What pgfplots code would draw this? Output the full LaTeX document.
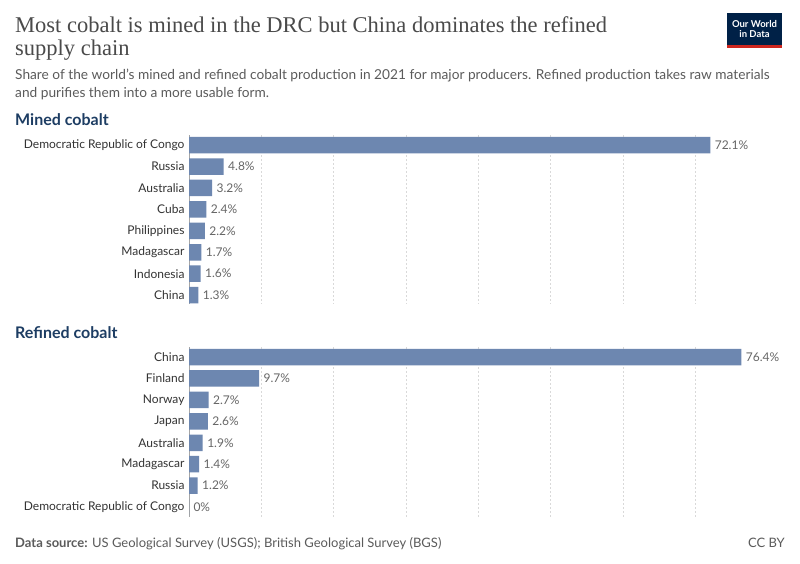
\documentclass[border=0pt]{standalone}
\usepackage{fontspec}
\setmainfont{Lato}
\newfontfamily\titlefont{Liberation Serif}
\usepackage{pgfplots}
\pgfplotsset{compat=1.18}
\definecolor{barblue}{HTML}{6D87B0}
\definecolor{titlegray}{HTML}{4A4A4A}
\definecolor{subgray}{HTML}{5B5B5B}
\definecolor{labgray}{HTML}{333333}
\definecolor{valgray}{HTML}{666666}
\definecolor{navy}{HTML}{1D3D63}
\definecolor{owidnavy}{HTML}{002147}
\definecolor{owidred}{HTML}{CE261E}

\pgfplotsset{
  cobalt/.style={
    xbar, bar width=16.5pt,
    scale only axis, width=578.4pt,
    xmin=0, xmax=80,
    y dir=reverse, ytick={0,...,7},
    xtick={10,20,...,70}, xticklabels={},
    xmajorgrids,
    major grid style={dash pattern=on 2pt off 2pt, color=black!15},
    extra x ticks={0}, extra x tick labels={},
    extra x tick style={major grid style={solid, color=black!35}},
    axis line style={draw=none},
    major tick length=0pt,
    /pgf/number format/assume math mode=true,
    yticklabel style={font=\fontsize{12}{14}\selectfont, text=labgray, xshift=-1pt},
    nodes near coords={\pgfmathprintnumber[fixed,precision=1]{\pgfplotspointmeta}\%},
    every node near coord/.append style={font=\fontsize{12}{14}\selectfont, text=valgray, xshift=1pt},
    clip=false,
  }
}

\begin{document}
\begin{tikzpicture}[x=1pt,y=1pt]
\useasboundingbox[fill=white] (0,0) rectangle (800,-564);

% title and subtitle
\node[anchor=base west, inner sep=0, text=titlegray, font=\titlefont\fontsize{22.5}{26}\selectfont] at (15,-33) {Most cobalt is mined in the DRC but China dominates the refined};
\node[anchor=base west, inner sep=0, text=titlegray, font=\titlefont\fontsize{22.5}{26}\selectfont] at (15,-56) {supply chain};
\node[anchor=base west, inner sep=0, text=subgray, font=\fontsize{13.7}{16}\selectfont] at (15,-80) {Share of the world's mined and refined cobalt production in 2021 for major producers. Refined production takes raw materials};
\node[anchor=base west, inner sep=0, text=subgray, font=\fontsize{13.7}{16}\selectfont] at (15,-98) {and purifies them into a more usable form.};

% logo
\fill[owidnavy] (727,-13) rectangle (782,-48);
\fill[owidred] (727,-45) rectangle (782,-48);
\node[text=white, align=center, inner sep=0, font=\bfseries\fontsize{9.5}{10.5}\selectfont] at (754.5,-29) {Our World\\in Data};

% panel titles
\node[anchor=base west, inner sep=0, text=navy, font=\bfseries\fontsize{16}{19}\selectfont] at (15,-126) {Mined cobalt};
\node[anchor=base west, inner sep=0, text=navy, font=\bfseries\fontsize{16}{19}\selectfont] at (15,-338) {Refined cobalt};

\begin{axis}[cobalt, at={(189pt,-135pt)}, anchor=north west,
  height=168.7pt, ymin=-0.47, ymax=7.4,
  yticklabels={Democratic Republic of Congo,Russia,Australia,Cuba,Philippines,Madagascar,Indonesia,China}]
  \addplot[fill=barblue, draw=none] coordinates {
    (72.1,0) (4.8,1) (3.2,2) (2.4,3) (2.2,4) (1.7,5) (1.6,6) (1.3,7)
  };
\end{axis}

\begin{axis}[cobalt, at={(189pt,-347pt)}, anchor=north west,
  height=170.1pt, ymin=-0.47, ymax=7.47,
  yticklabels={China,Finland,Norway,Japan,Australia,Madagascar,Russia,Democratic Republic of Congo}]
  \addplot[fill=barblue, draw=none] coordinates {
    (76.4,0) (9.7,1) (2.7,2) (2.6,3) (1.9,4) (1.4,5) (1.2,6) (0,7)
  };
\end{axis}

% footer
\node[anchor=base west, inner sep=0, text=subgray, font=\fontsize{13}{15}\selectfont] at (15,-547) {\textbf{Data source:} US Geological Survey (USGS); British Geological Survey (BGS)};
\node[anchor=base east, inner sep=0, text=subgray, font=\fontsize{13}{15}\selectfont] at (785,-547) {CC BY};
\end{tikzpicture}
\end{document}
